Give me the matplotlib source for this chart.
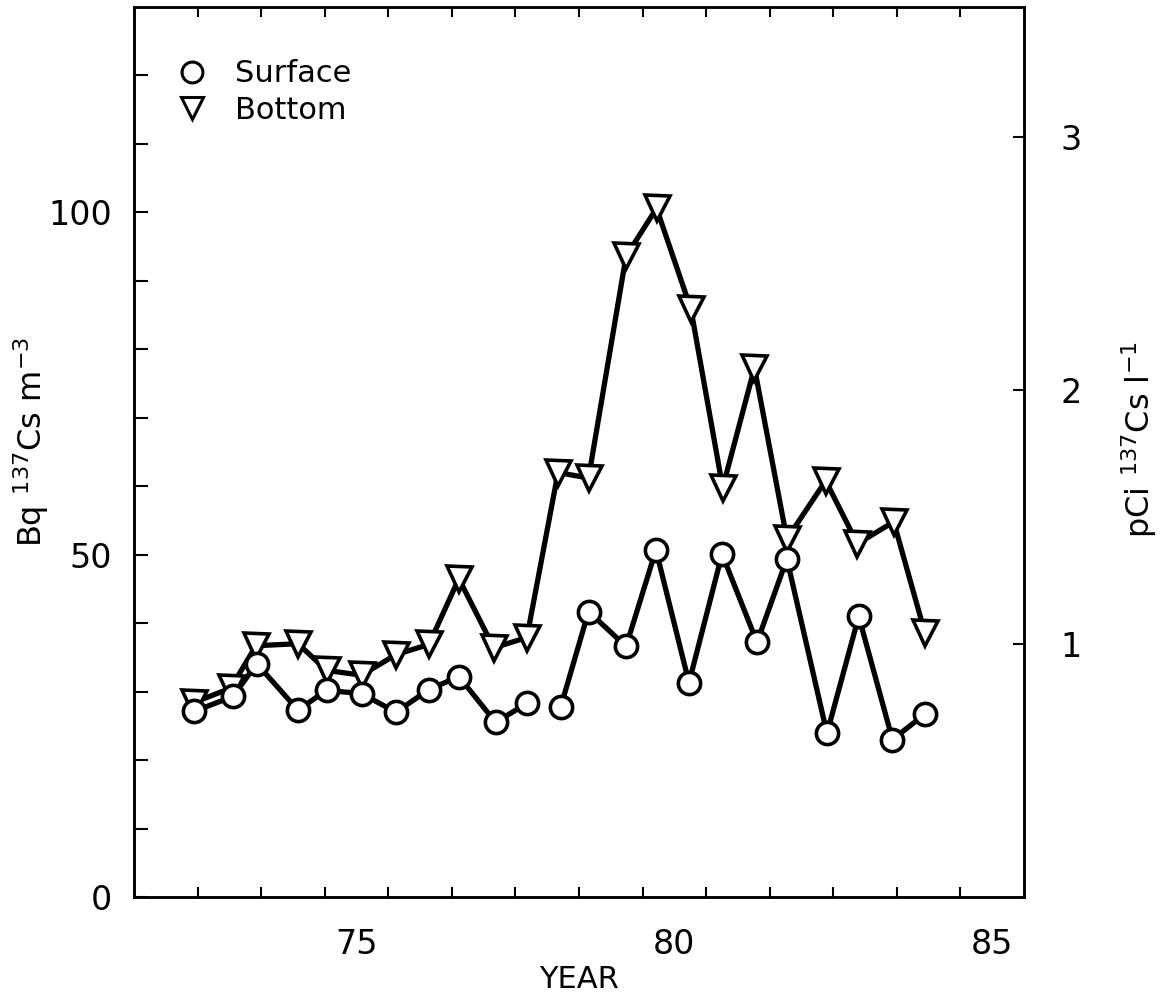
import numpy as np
import matplotlib
matplotlib.use('Agg')
import matplotlib.pyplot as plt

# values (year, Bq 137Cs m^-3)
surf_year = [72.44, 73.06, 73.43, 74.08, 74.53, 75.08, 75.62, 76.14, 76.61, 77.19, 77.68,
             78.21, 78.65, 79.24, 79.71, 80.23, 80.75, 81.30, 81.77, 82.40, 82.90, 83.43, 83.94]
surf_val = [27.1, 29.3, 34.1, 27.3, 30.2, 29.7, 27.0, 30.3, 32.2, 25.5, 28.3,
            27.7, 41.7, 36.6, 50.7, 31.3, 50.1, 37.2, 49.4, 23.9, 41.0, 23.0, 26.7]
surf_break = 11      # line is broken between 77.68 and 78.21

bot_year = [72.44, 73.02, 73.42, 74.08, 74.53, 75.08, 75.62, 76.14, 76.61, 77.16, 77.68,
            78.17, 78.65, 79.24, 79.72, 80.26, 80.76, 81.26, 81.77, 82.38, 82.88, 83.45, 83.94]
bot_val = [28.4, 30.5, 36.7, 37.0, 33.1, 32.4, 35.4, 36.9, 46.5, 36.4, 37.9,
           62.0, 61.2, 93.6, 100.6, 85.9, 59.8, 77.3, 52.3, 60.8, 51.6, 54.8, 38.6]

BQ_PER_PCI_L = 37.0

plt.rcParams['font.family'] = ['DejaVu Sans']

fig = plt.figure(figsize=(11.65, 10), dpi=100)
ax = fig.add_axes([0.115, 0.103, 0.764, 0.890])

mk = dict(color='black', lw=3.8, markerfacecolor='white', markeredgecolor='black',
          markeredgewidth=2.6)
ax.plot(bot_year, bot_val, marker='v', markersize=18, zorder=3, **mk)
ax.plot(surf_year[:surf_break], surf_val[:surf_break], marker='o', markersize=16, zorder=4, **mk)
ax.plot(surf_year[surf_break:], surf_val[surf_break:], marker='o', markersize=16, zorder=4, **mk)

ax.set_xlim(71.5, 85.5)
ax.set_ylim(0, 130)

# year boundary ticks, labels centred on the year
ax.set_xticks([75, 80, 85])
ax.set_xticks(np.arange(72.5, 85.0, 1.0), minor=True)
ax.tick_params(axis='x', which='major', length=0, pad=22, labelsize=24)
ax.tick_params(axis='x', which='minor', direction='in', length=7, width=1.5, top=True)

yt = np.arange(0, 130, 10)
ax.set_yticks(yt)
ax.set_yticklabels([str(v) if v % 50 == 0 else '' for v in yt])
ax.tick_params(axis='y', which='major', direction='in', length=10, width=1.5, pad=16, labelsize=24)

for s in ax.spines.values():
    s.set_linewidth(1.8)

# right axis in pCi/l
ax2 = ax.twinx()
ax2.set_ylim(0, 130 / BQ_PER_PCI_L)
ax2.set_yticks([1, 2, 3])
ax2.tick_params(axis='y', direction='in', length=8, width=1.5, pad=26, labelsize=24)
for s in ax2.spines.values():
    s.set_linewidth(1.8)

fig.text(0.497, 0.021, 'YEAR', fontsize=22, ha='center', va='center')
fig.text(0.027, 0.558, r'Bq $^{137}$Cs m$^{-3}$', fontsize=23, rotation=90, ha='center', va='center')
fig.text(0.978, 0.56, r'pCi $^{137}$Cs l$^{-1}$', fontsize=23, rotation=90, ha='center', va='center')

# legend
ax.plot([], [], ' ', marker='o', markersize=15, markerfacecolor='white',
        markeredgecolor='black', markeredgewidth=2.2, label='Surface')
ax.plot([], [], ' ', marker='v', markersize=16, markerfacecolor='white',
        markeredgecolor='black', markeredgewidth=2.2, label='Bottom')
h, l = ax.get_legend_handles_labels()
ax.legend(h[-2:], l[-2:], loc='upper left', bbox_to_anchor=(0.0, 0.972), frameon=False,
          fontsize=22, handletextpad=0.4, labelspacing=0.25, borderaxespad=0.5)

fig.savefig('out.png', dpi=100)
